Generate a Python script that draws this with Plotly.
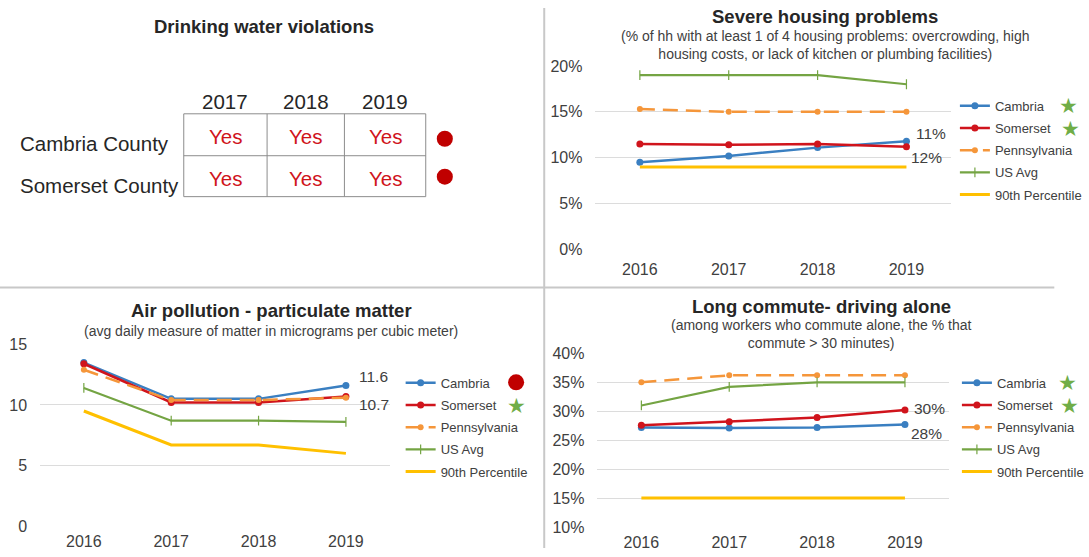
import plotly.graph_objects as go

W, H = 1089, 557
FONT = "Liberation Sans, Arial, sans-serif"

# screen placement of the figure inside the page (scale and offset, px)
SX, OX = 0.995, 0.0
SY, OY = 0.9713, 8.0

# ---------------- data ----------------
years = ["2016", "2017", "2018", "2019"]

# Severe housing problems (% of households)
housing_cambria = [9.5, 10.2, 11.1, 11.8]
housing_somerset = [11.5, 11.4, 11.5, 11.2]
housing_pennsylvania = [15.3, 15.0, 15.0, 15.0]
housing_us_avg = [19.0, 19.0, 19.0, 18.0]
housing_p90 = [9.0, 9.0, 9.0, 9.0]

# Air pollution - particulate matter (micrograms per cubic meter)
air_cambria = [13.5, 10.5, 10.5, 11.6]
air_somerset = [13.4, 10.2, 10.2, 10.7]
air_pennsylvania = [12.9, 10.4, 10.4, 10.6]
air_us_avg = [11.4, 8.7, 8.7, 8.6]
air_p90 = [9.5, 6.7, 6.7, 6.0]

# Long commute - driving alone (%)
commute_cambria = [27.2, 27.1, 27.2, 27.7]
commute_somerset = [27.6, 28.2, 28.9, 30.2]
commute_pennsylvania = [35.0, 36.2, 36.2, 36.2]
commute_us_avg = [31.0, 34.2, 35.0, 35.0]
commute_p90 = [15.0, 15.0, 15.0, 15.0]

# Drinking water violations
table_years = ["2017", "2018", "2019"]
table_counties = ["Cambria County", "Somerset County"]
table_violations = [["Yes", "Yes", "Yes"], ["Yes", "Yes", "Yes"]]

# status markers shown beside the county legend entries
housing_status = {"Cambria": "star", "Somerset": "star"}
air_status = {"Cambria": "dot", "Somerset": "star"}
commute_status = {"Cambria": "star", "Somerset": "star"}
water_status = ["dot", "dot"]

# ---------------- styles ----------------
BLUE, RED, ORANGE, GREEN, GOLD = "#3a7fc1", "#d0141c", "#f5963a", "#74a443", "#ffc000"
TEXT = "#262626"
TICK = "#404040"

series_style = {
    "Cambria": dict(line=dict(color=BLUE, width=2.5),
                    marker=dict(symbol="circle", size=7, color=BLUE), mode="lines+markers"),
    "Somerset": dict(line=dict(color=RED, width=2.5),
                     marker=dict(symbol="circle", size=7, color=RED), mode="lines+markers"),
    "Pennsylvania": dict(line=dict(color=ORANGE, width=2.5, dash="15px,8px"),
                         marker=dict(symbol="circle", size=6, color=ORANGE), mode="lines+markers"),
    "US Avg": dict(line=dict(color=GREEN, width=2.2),
                   marker=dict(symbol="line-ns-open", size=7, color=GREEN,
                               line=dict(color=GREEN, width=1.2)),
                   mode="lines+markers"),
    "90th Percentile": dict(line=dict(color=GOLD, width=3), mode="lines"),
}


def px(x):
    """screen x (px) -> paper fraction"""
    return ((x - OX) / SX) / W


def py(y):
    """screen y (px, from top) -> paper fraction"""
    return 1 - ((y - OY) / SY) / H


fig = go.Figure()

panels = [
    ("x", "y", "legend", [
        ("Cambria", housing_cambria), ("Somerset", housing_somerset),
        ("Pennsylvania", housing_pennsylvania), ("US Avg", housing_us_avg),
        ("90th Percentile", housing_p90)]),
    ("x2", "y2", "legend2", [
        ("Cambria", air_cambria), ("Somerset", air_somerset),
        ("Pennsylvania", air_pennsylvania), ("US Avg", air_us_avg),
        ("90th Percentile", air_p90)]),
    ("x3", "y3", "legend3", [
        ("Cambria", commute_cambria), ("Somerset", commute_somerset),
        ("Pennsylvania", commute_pennsylvania), ("US Avg", commute_us_avg),
        ("90th Percentile", commute_p90)]),
]

for xa, ya, leg, series in panels:
    for name, vals in series:
        st = series_style[name]
        fig.add_trace(go.Scatter(
            x=years, y=vals, name=name, xaxis=xa, yaxis=ya, legend=leg,
            legendgroup=leg + name, hoverinfo="skip", **st))


def x_axis(x0, x1, anchor, standoff):
    return dict(domain=[px(x0), px(x1)], anchor=anchor, type="category",
                range=[-0.5, 3.5], showgrid=False, showline=False, zeroline=False,
                ticks="", tickfont=dict(family=FONT, size=16, color=TICK),
                ticklabelstandoff=standoff, fixedrange=True)


def y_axis(y_top, y_bot, rng, dtick, suffix, anchor):
    return dict(domain=[py(y_bot), py(y_top)], anchor=anchor, range=rng,
                tick0=rng[0], dtick=dtick, ticksuffix=suffix,
                showgrid=True, gridcolor="#dcdcdc", gridwidth=1,
                zeroline=False, showline=False, ticks="",
                tickfont=dict(family=FONT, size=16, color=TICK),
                ticklabelstandoff=12, fixedrange=True)


def legend_at(x, y):
    return dict(x=px(x), y=py(y), xanchor="left", yanchor="top",
                font=dict(family=FONT, size=13, color=TICK),
                bgcolor="rgba(0,0,0,0)", itemwidth=30,
                traceorder="grouped", tracegroupgap=2.3, itemclick=False)


annotations = []
shapes = []


def text(x, y, s, size, bold=False, color=TEXT, xanchor="center"):
    annotations.append(dict(
        x=px(x), y=py(y), xref="paper", yref="paper", text=s, showarrow=False,
        xanchor=xanchor, yanchor="middle",
        font=dict(family=FONT, size=size, color=color,
                  weight="bold" if bold else "normal")))


def point_label(xa, ya, idx, yval, s, dx, dy):
    # category axes take the serial index of the category
    annotations.append(dict(
        x=idx, y=yval, xref=xa, yref=ya, text=s, showarrow=False,
        xshift=dx / SX, yshift=dy / SY, font=dict(family=FONT, size=15.5, color=TICK)))


def status_mark(kind, x, y):
    if kind == "star":
        text(x, y, "★", 21, color="#70ad47")
    else:
        r = 8
        shapes.append(dict(type="circle", xref="paper", yref="paper",
                           x0=px(x - r), x1=px(x + r), y0=py(y + r), y1=py(y - r),
                           fillcolor="#c00000", line=dict(width=0)))


# ---------------- titles ----------------
text(263, 27, "Drinking water violations", 18.5, bold=True)
text(822, 17, "Severe housing problems", 18.5, bold=True)
text(822, 45, "(% of hh with at least 1 of 4 housing problems: overcrowding, high<br>"
              "housing costs, or lack of kitchen or plumbing facilities)", 14, color=TICK)
text(270, 311, "Air pollution - particulate matter", 18.5, bold=True)
text(270, 332, "(avg daily measure of matter in micrograms per cubic meter)", 14, color=TICK)
text(818, 307, "Long commute- driving alone", 18.5, bold=True)
text(818, 335, "(among workers who commute alone, the % that<br>commute > 30 minutes)", 14, color=TICK)

# ---------------- value labels at 2019 ----------------
last = len(years) - 1
point_label("x", "y", last, housing_somerset[last], f"{round(housing_somerset[last])}%", 24, 13)
point_label("x", "y", last, housing_cambria[last], f"{round(housing_cambria[last])}%", 20, -16)
point_label("x2", "y2", last, air_cambria[last], f"{air_cambria[last]:.1f}", 27, 9)
point_label("x2", "y2", last, air_somerset[last], f"{air_somerset[last]:.1f}", 28, -8)
point_label("x3", "y3", last, commute_somerset[last], f"{round(commute_somerset[last])}%", 24, 2)
point_label("x3", "y3", last, commute_cambria[last], f"{round(commute_cambria[last])}%", 21, -9)

# ---------------- legend status markers ----------------
for i, name in enumerate(["Cambria", "Somerset"]):
    status_mark(housing_status[name], 1064 + 2 * i, 106 + 23 * i)
    status_mark(air_status[name], 514, 383 + 23 * i)
    status_mark(commute_status[name], 1063 + 2 * i, 383 + 23 * i)

# ---------------- drinking water table ----------------
col_edges = [183, 266, 343, 424]
row_edges = [114, 156, 197]
grid_col = "#8c8c8c"
for xe in col_edges:
    shapes.append(dict(type="line", xref="paper", yref="paper",
                       x0=px(xe), x1=px(xe), y0=py(row_edges[0]), y1=py(row_edges[-1]),
                       line=dict(color=grid_col, width=1)))
for ye in row_edges:
    shapes.append(dict(type="line", xref="paper", yref="paper",
                       x0=px(col_edges[0]), x1=px(col_edges[-1]), y0=py(ye), y1=py(ye),
                       line=dict(color=grid_col, width=1)))
for j, yr in enumerate(table_years):
    cx = (col_edges[j] + col_edges[j + 1]) / 2
    text(cx, 102, yr, 20.5, color=TEXT)
for i, county in enumerate(table_counties):
    cy = (row_edges[i] + row_edges[i + 1]) / 2
    text(18, cy + 9, county, 20.5, color=TEXT, xanchor="left")
    for j, v in enumerate(table_violations[i]):
        cx = (col_edges[j] + col_edges[j + 1]) / 2
        text(cx, cy + 2, v, 20.5, color="#d0141c")
    status_mark(water_status[i], 443, 139 + 38 * i)

# ---------------- panel dividers ----------------
shapes.append(dict(type="line", xref="paper", yref="paper",
                   x0=px(542), x1=px(542), y0=py(8), y1=0,
                   line=dict(color="#c8c8c8", width=2)))
shapes.append(dict(type="line", xref="paper", yref="paper",
                   x0=0, x1=px(1050), y0=py(288), y1=py(288),
                   line=dict(color="#c8c8c8", width=2)))

fig.update_layout(
    width=W, height=H, margin=dict(l=0, r=0, t=0, b=0),
    paper_bgcolor="white", plot_bgcolor="white",
    font=dict(family=FONT, color=TEXT),
    xaxis=x_axis(593, 947, "y", 8),
    yaxis=y_axis(66, 250, [0, 20], 5, "%", "x"),
    xaxis2=x_axis(40, 388, "y2", 4),
    yaxis2=y_axis(345, 527, [0, 15], 5, "", "x2"),
    xaxis3=x_axis(595, 945, "y3", 4),
    yaxis3=y_axis(354, 528, [10, 40], 5, "%", "x3"),
    legend=legend_at(951, 91),
    legend2=legend_at(399, 368.5),
    legend3=legend_at(953, 368.5),
    annotations=annotations,
    shapes=shapes,
    showlegend=True,
)

fig.write_html("out.html", config={"displayModeBar": False})
